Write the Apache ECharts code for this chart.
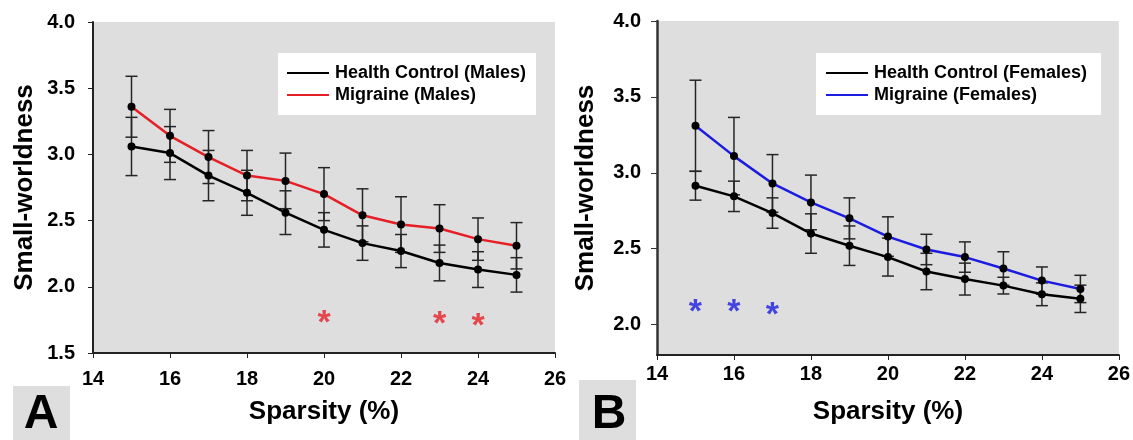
<!DOCTYPE html>
<html>
<head>
<meta charset="utf-8">
<script src="https://cdn.jsdelivr.net/npm/echarts@6/dist/echarts.min.js"></script>
<style>
  html, body { margin: 0; padding: 0; background: #fff; }
  #chart { width: 1133px; height: 440px; }
</style>
</head>
<body>
<div id="chart"></div>
<script>
  // sparsity levels (%)
  const sparsity = [15, 16, 17, 18, 19, 20, 21, 22, 23, 24, 25]

  // panel A: males
  const hcMaleMean = [3.06, 3.01, 2.84, 2.71, 2.56, 2.43, 2.33, 2.27, 2.18, 2.13, 2.09]
  const hcMaleSd = [0.22, 0.2, 0.19, 0.17, 0.165, 0.13, 0.13, 0.125, 0.135, 0.135, 0.13]
  const migMaleMean = [3.36, 3.14, 2.98, 2.84, 2.8, 2.7, 2.54, 2.47, 2.44, 2.36, 2.31]
  const migMaleSd = [0.23, 0.2, 0.2, 0.19, 0.21, 0.2, 0.2, 0.21, 0.18, 0.16, 0.175]
  const maleSigX = [20, 23, 24]
  const maleSigY = [1.76, 1.75, 1.74]

  // panel B: females
  const hcFemaleMean = [2.915, 2.845, 2.735, 2.6, 2.52, 2.445, 2.35, 2.3, 2.257, 2.2, 2.17]
  const hcFemaleSd = [0.095, 0.1, 0.1, 0.13, 0.13, 0.125, 0.12, 0.105, 0.055, 0.075, 0.09]
  const migFemaleMean = [3.31, 3.11, 2.93, 2.805, 2.7, 2.58, 2.495, 2.445, 2.37, 2.29, 2.235]
  const migFemaleSd = [0.3, 0.255, 0.19, 0.18, 0.135, 0.13, 0.1, 0.1, 0.11, 0.09, 0.09]
  const femaleSigX = [15, 16, 17]
  const femaleSigY = [2.115, 2.11, 2.095]

  const yTicksB = [2.0, 2.5, 3.0, 3.5, 4.0]

  const FONT = '"Liberation Sans", Arial, sans-serif'
  const RED = '#e61e25'
  const BLUE = '#1c1ce0'
  const BAR = '#262626'

  const pairs = (xs, ys) => xs.map((x, i) => [x, ys[i]])
  const bars = (mean, sd) => sparsity.map((x, i) => [x, mean[i] - sd[i], mean[i] + sd[i]])

  function renderErrorBar(params, api) {
    const x = api.value(0)
    const lo = api.coord([x, api.value(1)])
    const hi = api.coord([x, api.value(2)])
    const w = 6
    const style = { stroke: BAR, lineWidth: 1.5 }
    return {
      type: 'group',
      children: [
        { type: 'line', shape: { x1: lo[0], y1: lo[1], x2: hi[0], y2: hi[1] }, style },
        { type: 'line', shape: { x1: lo[0] - w, y1: lo[1], x2: lo[0] + w, y2: lo[1] }, style },
        { type: 'line', shape: { x1: hi[0] - w, y1: hi[1], x2: hi[0] + w, y2: hi[1] }, style },
      ],
    }
  }

  function errorSeries(idx, mean, sd) {
    return {
      type: 'custom',
      xAxisIndex: idx,
      yAxisIndex: idx,
      renderItem: renderErrorBar,
      data: bars(mean, sd),
      z: 1,
      silent: true,
    }
  }

  function lineSeries(idx, name, mean, color) {
    return {
      name,
      type: 'line',
      xAxisIndex: idx,
      yAxisIndex: idx,
      data: pairs(sparsity, mean),
      symbol: 'circle',
      symbolSize: 8,
      itemStyle: { color: '#000' },
      lineStyle: { color, width: 2.5 },
      z: 2,
    }
  }

  function starSeries(idx, xs, ys, color) {
    return {
      type: 'scatter',
      xAxisIndex: idx,
      yAxisIndex: idx,
      data: pairs(xs, ys),
      symbolSize: 0,
      silent: true,
      label: {
        show: true,
        position: 'inside',
        formatter: '*',
        color,
        fontFamily: FONT,
        fontWeight: 'bold',
        fontSize: 34,
        offset: [0, 5],
      },
    }
  }

  function xAxis(idx, margin, nameGap) {
    return {
      type: 'value',
      gridIndex: idx,
      min: 14,
      max: 26,
      interval: 2,
      name: 'Sparsity (%)',
      nameLocation: 'middle',
      nameGap,
      nameTextStyle: { fontFamily: FONT, fontWeight: 'bold', fontSize: 26, color: '#000' },
      axisLine: { onZero: false, lineStyle: { color: '#222', width: 2 } },
      axisTick: { length: 5, lineStyle: { color: '#222', width: 1 } },
      axisLabel: { margin, fontFamily: FONT, fontWeight: 'bold', fontSize: 20, color: '#000' },
      splitLine: { show: false },
    }
  }

  const labelStyle = { fontFamily: FONT, fontWeight: 'bold', fontSize: 20, color: '#000' }

  const chart = echarts.init(document.getElementById('chart'))
  chart.setOption({
    animation: false,
    backgroundColor: '#fff',
    grid: [
      { left: 93, top: 22, width: 462, height: 331, show: true, backgroundColor: '#dedede', borderWidth: 0 },
      { left: 657, top: 21, width: 464, height: 334, show: true, backgroundColor: '#dedede', borderWidth: 0 },
    ],
    xAxis: [xAxis(0, 16, 46), xAxis(1, 9, 44)],
    yAxis: [
      {
        type: 'value',
        gridIndex: 0,
        min: 1.5,
        max: 4,
        interval: 0.5,
        name: 'Small-worldness',
        nameLocation: 'middle',
        nameGap: 55,
        nameTextStyle: { fontFamily: FONT, fontWeight: 'bold', fontSize: 26, color: '#000' },
        axisLine: { show: true, onZero: false, lineStyle: { color: '#222', width: 2 } },
        axisTick: { show: true, length: 5, lineStyle: { color: '#222', width: 1 } },
        axisLabel: { ...labelStyle, margin: 18, formatter: (v) => v.toFixed(1) },
        splitLine: { show: false },
      },
      {
        type: 'value',
        gridIndex: 1,
        min: 1.8,
        max: 4,
        name: 'Small-worldness',
        nameLocation: 'middle',
        nameGap: 58,
        nameTextStyle: { fontFamily: FONT, fontWeight: 'bold', fontSize: 26, color: '#000' },
        axisLine: { show: true, onZero: false, lineStyle: { color: '#333', width: 2.5 } },
        axisTick: { show: true, length: 6, customValues: yTicksB, lineStyle: { color: '#333', width: 1 } },
        axisLabel: { ...labelStyle, margin: 16, customValues: yTicksB, formatter: (v) => v.toFixed(1) },
        splitLine: { show: false },
      },
    ],
    legend: [
      {
        left: 278,
        top: 53,
        orient: 'vertical',
        backgroundColor: '#fff',
        padding: [11, 10, 11, 9],
        itemWidth: 42,
        itemHeight: 2,
        itemGap: 4,
        textStyle: { fontFamily: FONT, fontWeight: 'bold', fontSize: 18, color: '#000', padding: [0, 0, 0, 1] },
        data: [
          { name: 'Health Control (Males)', icon: 'rect', itemStyle: { color: '#000' } },
          { name: 'Migraine (Males)', icon: 'rect', itemStyle: { color: RED } },
        ],
      },
      {
        left: 816,
        top: 53,
        orient: 'vertical',
        backgroundColor: '#fff',
        padding: [11, 14, 11, 10],
        itemWidth: 42,
        itemHeight: 2,
        itemGap: 4,
        textStyle: { fontFamily: FONT, fontWeight: 'bold', fontSize: 18, color: '#000', padding: [0, 0, 0, 1] },
        data: [
          { name: 'Health Control (Females)', icon: 'rect', itemStyle: { color: '#000' } },
          { name: 'Migraine (Females)', icon: 'rect', itemStyle: { color: BLUE } },
        ],
      },
    ],
    graphic: [
      { type: 'rect', shape: { x: 13, y: 386, width: 57, height: 54 }, style: { fill: '#dedede' } },
      {
        type: 'text', x: 41, y: 415,
        style: { text: 'A', font: 'bold 48px ' + FONT, fill: '#000', align: 'center', verticalAlign: 'middle' },
      },
      { type: 'rect', shape: { x: 579, y: 380, width: 57, height: 60 }, style: { fill: '#dedede' } },
      {
        type: 'text', x: 609, y: 415,
        style: { text: 'B', font: 'bold 48px ' + FONT, fill: '#000', align: 'center', verticalAlign: 'middle' },
      },
    ],
    series: [
      errorSeries(0, hcMaleMean, hcMaleSd),
      errorSeries(0, migMaleMean, migMaleSd),
      lineSeries(0, 'Health Control (Males)', hcMaleMean, '#000'),
      lineSeries(0, 'Migraine (Males)', migMaleMean, RED),
      starSeries(0, maleSigX, maleSigY, RED),
      errorSeries(1, hcFemaleMean, hcFemaleSd),
      errorSeries(1, migFemaleMean, migFemaleSd),
      lineSeries(1, 'Health Control (Females)', hcFemaleMean, '#000'),
      lineSeries(1, 'Migraine (Females)', migFemaleMean, BLUE),
      starSeries(1, femaleSigX, femaleSigY, BLUE),
    ],
  })
</script>
</body>
</html>
